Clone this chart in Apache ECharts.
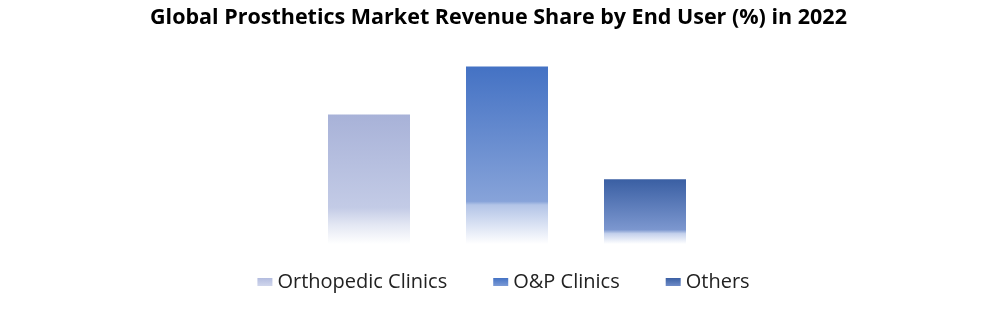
<!DOCTYPE html>
<html><head><meta charset="utf-8">
<script src="https://cdn.jsdelivr.net/npm/echarts@6/dist/echarts.min.js"></script>
<style>html,body{margin:0;padding:0;background:#fff}#c{width:1007px;height:310px}</style>
</head><body><div id="c"></div>
<script>
const title = 'Global Prosthetics Market Revenue Share by End User (%) in 2022';
const categories = ['Orthopedic Clinics', 'O&P Clinics', 'Others'];
const orthopedicClinics = [35, '-', '-'];
const opClinics = ['-', 48, '-'];
const others = ['-', '-', 17.5];

function grad(stops){
  return new echarts.graphic.LinearGradient(0,0,0,1, stops.map(s=>({offset:s[0], color:s[1]})));
}
const styles = [
  grad([[0,'#A8B2D8'],[0.72,'#C3CBE6'],[0.85,'#E3E7F3'],[1,'#FFFFFF']]),
  grad([[0,'#4472C4'],[0.76,'#87A3D9'],[0.78,'#B3C4E7'],[1,'#FFFFFF']]),
  grad([[0,'#3A5FA3'],[0.78,'#7C97CF'],[0.84,'#C4D1EC'],[1,'#FFFFFF']])
];
const legendColors = [
  grad([[0,'#B3BCDF'],[1,'#D0D6EC']]),
  grad([[0,'#4472C4'],[1,'#7C9BD6']]),
  grad([[0,'#3A5FA3'],[1,'#6F8CC8']])
];
const seriesData = [orthopedicClinics, opClinics, others];
const font = 'Open Sans';
const chart = echarts.init(document.getElementById('c'));
chart.setOption({
  animation:false,
  title:{text:title,left:145,top:2,textStyle:{fontFamily:font,fontWeight:'bold',fontSize:21.5,color:'#000'}},
  legend:{top:267,left:'center',icon:'rect',itemWidth:15,itemHeight:8,itemGap:46,
    textStyle:{fontFamily:font,fontSize:20,color:'#222'},
    data:categories.map((n,i)=>({name:n,itemStyle:{color:legendColors[i]}}))},
  grid:{left:300,right:293,top:59,bottom:66},
  xAxis:{type:'category',data:categories,show:false},
  yAxis:{type:'value',min:0,max:50,show:false},
  series: categories.map((n,i)=>({name:n,type:'bar',stack:'s',barWidth:82,data:seriesData[i],itemStyle:{color:styles[i]}}))
});
</script></body></html>
